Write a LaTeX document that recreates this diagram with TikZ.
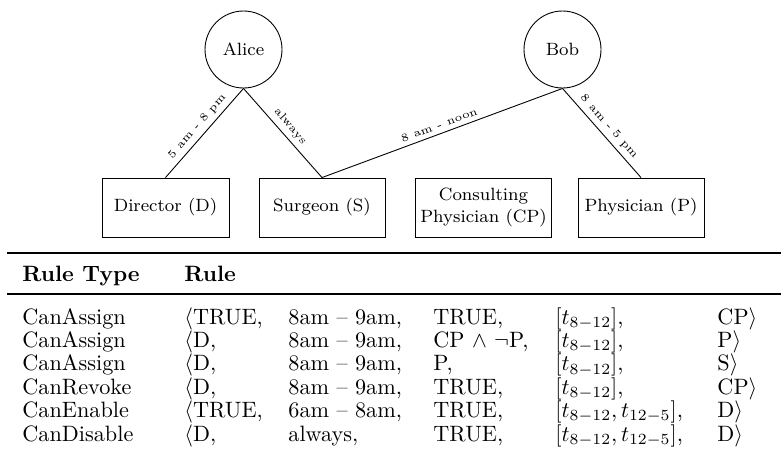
\documentclass[tikz,border=0pt]{standalone}
\usetikzlibrary{positioning}

% one table row: id, baseline, type, issuer, period, condition, intervals, role
\newcommand\rulerow[8]{%
  \node[cell] (#1-type) at (22,#2)  {#3};
  \node[cell] (#1-who)  at (184,#2) {#4};
  \node[cell] (#1-time) at (288,#2) {#5};
  \node[cell] (#1-cond) at (433,#2) {#6};
  \node[cell] (#1-ivl)  at (555,#2) {#7};
  \node[cell] (#1-role) at (717,#2) {#8};
}

\begin{document}
\begin{tikzpicture}[x=0.45pt, y=-0.45pt,
  person/.style={circle, draw, line width=0.4pt, minimum size=34.65pt,
                 inner sep=0pt, font=\footnotesize},
  rolebox/.style={draw, line width=0.4pt, minimum height=26.55pt,
                  inner sep=2pt, font=\footnotesize, align=center},
  assign/.style={line width=0.4pt},
  tlabel/.style={font=\tiny, sloped, above, midway, inner sep=2pt},
  cell/.style={anchor=base west, inner sep=0pt, font=\normalsize},
  head/.style={cell, font=\normalsize\bfseries},
  toprule/.style={line width=0.8pt},
  midrule/.style={line width=0.5pt}]

\useasboundingbox (0,0) rectangle (781,458);

% users
\node[person] (alice) at (243.5,49.5) {Alice};
\node[person] (bob)   at (562.5,49.5) {Bob};

% roles
\node[rolebox, minimum width=57.15pt] (dir) at (165.5,207.5) {Director (D)};
\node[rolebox, minimum width=56.7pt]  (sur) at (322,207.5)   {Surgeon (S)};
\node[rolebox, minimum width=59.85pt] (cp)  at (483.5,207.5) {Consulting\\Physician (CP)};
\node[rolebox, minimum width=56.7pt]  (phy) at (641,207.5)   {Physician (P)};

% user-role assignments with their time windows
\draw[assign] (alice.south) -- node[tlabel] {5 am - 8 pm} (dir.north);
\draw[assign] (alice.south) -- node[tlabel] {always}      (sur.north);
\draw[assign] (bob.south)   -- node[tlabel] {8 am - noon} (sur.north);
\draw[assign] (bob.south)   -- node[tlabel] {8 am - 5 pm} (phy.north);

% rule table
\draw[toprule] (7,253) -- (781,253);
\node[head] (h-type) at (22,281)  {Rule Type};
\node[head] (h-rule) at (184,281) {Rule};
\draw[midrule] (7,294) -- (781,294);

\rulerow{r1}{324}{CanAssign}{$\langle$TRUE,}{8am -- 9am,}{TRUE,}{$[t_{8-12}]$,}{CP$\rangle$}
\rulerow{r2}{347.4}{CanAssign}{$\langle$D,}{8am -- 9am,}{CP $\wedge$ $\neg$P,}{$[t_{8-12}]$,}{P$\rangle$}
\rulerow{r3}{370.8}{CanAssign}{$\langle$D,}{8am -- 9am,}{P,}{$[t_{8-12}]$,}{S$\rangle$}
\rulerow{r4}{394.2}{CanRevoke}{$\langle$D,}{8am -- 9am,}{TRUE,}{$[t_{8-12}]$,}{CP$\rangle$}
\rulerow{r5}{417.6}{CanEnable}{$\langle$TRUE,}{6am -- 8am,}{TRUE,}{$[t_{8-12},t_{12-5}]$,}{D$\rangle$}
\rulerow{r6}{441}{CanDisable}{$\langle$D,}{always,}{TRUE,}{$[t_{8-12},t_{12-5}]$,}{D$\rangle$}

\end{tikzpicture}
\end{document}
